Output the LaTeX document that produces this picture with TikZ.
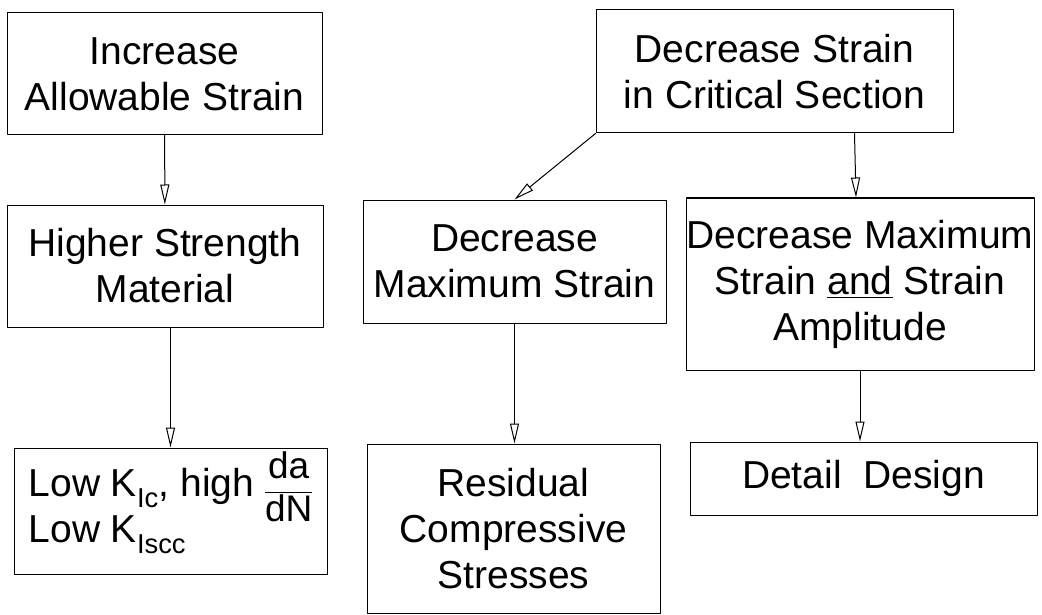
\documentclass[tikz,border=0pt]{standalone}
\usepackage{amsmath}
\usepackage{fontspec}
\setmainfont{Liberation Sans}
\usepackage{tikz}
\usetikzlibrary{calc}
\usetikzlibrary{arrows.meta}
\newcommand{\boxfont}{\fontsize{39}{46}\selectfont}
\newcommand{\fracfont}{\fontsize{37}{37}\selectfont}
\newcommand{\dadN}{\smash{\raisebox{-25pt}{\fracfont\renewcommand{\arraystretch}{1.15}\begin{tabular}[b]{@{}c@{}}da\\\hline dN\end{tabular}}}}
\tikzstyle{every node}=[font=\boxfont]
\tikzstyle{block}=[draw,line width=1pt,inner sep=0pt,align=center]

\begin{document}
\begin{tikzpicture}[line cap=round,line join=round,>={Triangle[open,length=20pt,width=9pt]},x=1pt,y=-1pt]
            \useasboundingbox (0,0) rectangle (1042,615);
            \node[block,minimum width=315pt,minimum height=122pt] (incr) at (164.5,74) {Increase\\Allowable Strain};
            \node[block,minimum width=316pt,minimum height=122pt] (higher) at (165,266) {Higher Strength\\Material};
            \node[block,minimum width=313pt,minimum height=126pt,align=left] (lowk) at (170.5,511) {Low K\textsubscript{Ic}, high \dadN\\Low K\textsubscript{Iscc}};
            \node[block,minimum width=357pt,minimum height=123pt] (decr) at (774.5,71.5) {Decrease Strain\\in Critical Section};
            \node[block,minimum width=303pt,minimum height=123pt] (decmax) at (514.5,261.5) {Decrease\\Maximum Strain};
            \node[block,minimum width=348pt,minimum height=172pt] (decamp) at (860,284) {Decrease Maximum\\Strain \underline{and} Strain\\Amplitude};
            \node[block,minimum width=293pt,minimum height=169pt] (resid) at (513.5,528.5) {Residual\\Compressive\\Stresses};
            \node[block,minimum width=347pt,minimum height=73pt] (detail) at (863.5,478.5) {Detail~~Design};
            \draw [->,line width=1pt] (incr) -- (higher);
            \draw [->,line width=1pt] (higher.south -| lowk.north) -- (lowk.north);
            \draw [->,line width=1pt] (decr.south west) -- (decmax.north);
            \draw [->,line width=1pt] ($(decr.south)+(80,0)$) -- ($(decamp.north)+(-4,0)$);
            \draw [->,line width=1pt] (decmax.south) -- (decmax.south |- resid.north);
            \draw [->,line width=1pt] (decamp.south) -- (decamp.south |- detail.north);
            \end{tikzpicture}
\end{document}
